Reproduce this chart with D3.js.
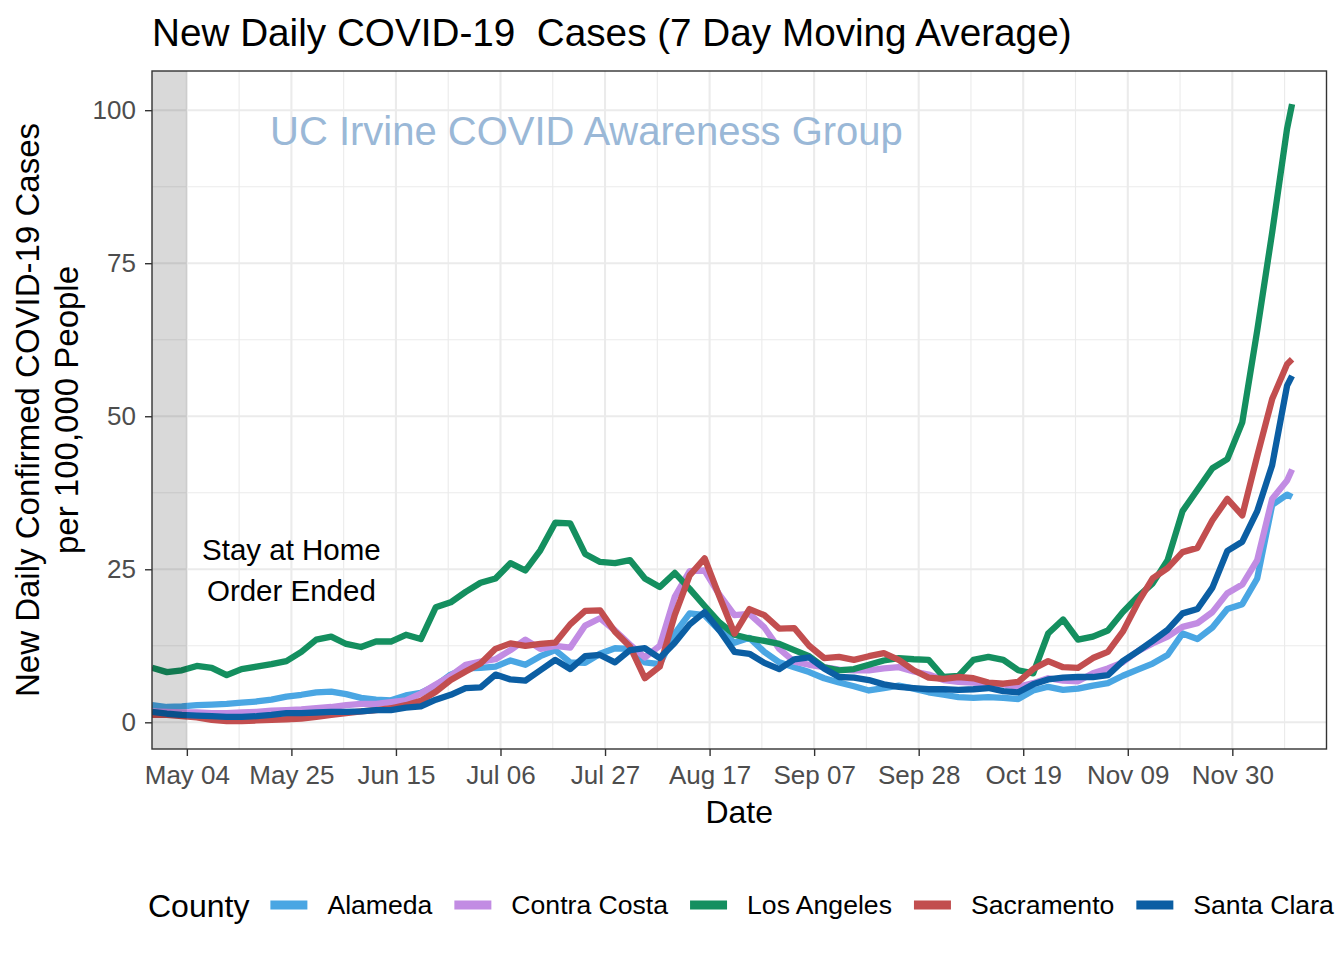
<!DOCTYPE html>
<html>
<head>
<meta charset="utf-8">
<script src="https://cdn.jsdelivr.net/npm/d3@7"></script>
<style>
  html, body { margin: 0; padding: 0; background: #fff; }
  svg { display: block; font-family: "Liberation Sans", Arial, Helvetica, sans-serif; }
</style>
</head>
<body>
<svg id="chart" width="1344" height="960"></svg>
<script>
// ---------------- data ----------------
const startDate = new Date(2020, 3, 27);
const endDate = new Date(2020, 11, 12);
const dates = d3.range(77).map(k => d3.timeDay.offset(startDate, 3 * k)).concat([endDate]);

const counties = ["Alameda", "Contra Costa", "Los Angeles", "Sacramento", "Santa Clara"];
const countyColors = ["#4AA6E3", "#C28CE3", "#148F5F", "#C24E4F", "#0B5EA3"];

const alameda = [2.8,2.5,2.6,2.8,2.9,3.0,3.2,3.4,3.7,4.2,4.5,4.9,5.0,4.6,4.0,3.7,3.6,4.4,4.8,6.0,7.8,8.8,8.9,9.1,10.1,9.4,10.8,11.8,9.8,9.7,11.2,12.1,12.0,9.8,9.5,14.5,17.8,17.5,15.0,13.0,13.8,11.5,9.8,9.0,8.2,7.2,6.5,5.9,5.2,5.6,6.0,5.5,4.9,4.5,4.1,4.0,4.1,4.0,3.8,5.2,5.8,5.3,5.5,6.0,6.4,7.6,8.6,9.6,11.0,14.5,13.6,15.5,18.5,19.3,23.5,35.5,37.2,36.8];
const contraCosta = [1.8,1.7,1.6,1.6,1.5,1.5,1.6,1.7,1.9,2.0,2.1,2.3,2.5,2.8,3.0,3.0,3.3,3.6,4.7,6.2,7.6,9.4,9.9,10.3,11.8,13.5,12.0,12.5,12.2,15.8,17.0,15.0,12.7,10.6,12.5,20.5,24.7,24.8,20.8,17.5,17.7,15.5,12.0,9.9,9.4,9.0,8.6,8.5,8.5,8.8,9.0,8.3,7.8,6.9,6.6,6.5,6.4,6.2,5.8,6.4,7.2,6.8,6.7,8.0,8.8,9.8,11.6,12.9,14.0,15.6,16.2,18.0,21.1,22.5,26.5,36.5,39.5,41.3];
const losAngeles = [8.9,8.2,8.5,9.2,8.9,7.7,8.7,9.1,9.5,10.0,11.5,13.5,14.0,12.8,12.3,13.2,13.2,14.3,13.6,18.8,19.6,21.3,22.8,23.5,26.0,24.8,28.1,32.6,32.5,27.5,26.2,26.0,26.5,23.5,22.1,24.4,21.8,19.0,16.3,14.3,13.7,13.3,12.8,11.8,10.8,9.0,8.5,8.7,9.4,10.1,10.5,10.3,10.2,7.4,7.6,10.2,10.7,10.2,8.5,8.0,14.5,16.8,13.5,14.0,15.0,18.0,20.5,22.7,26.5,34.5,38.0,41.5,43.0,49.0,64.0,80.0,97.0,101.0];
const sacramento = [1.2,1.2,1.0,0.8,0.4,0.2,0.2,0.3,0.4,0.5,0.6,0.9,1.2,1.5,1.8,2.0,2.3,2.8,3.5,5.0,6.9,8.3,9.6,12.0,12.9,12.5,12.8,13.0,16.0,18.2,18.3,14.8,12.4,7.2,9.1,17.5,24.0,26.8,20.5,14.5,18.5,17.5,15.3,15.4,12.5,10.5,10.7,10.2,10.8,11.3,10.2,8.5,7.3,7.1,7.4,7.2,6.5,6.3,6.6,8.7,10.0,9.0,8.9,10.5,11.5,14.8,19.5,23.5,25.2,27.8,28.5,33.0,36.5,33.8,43.5,52.8,58.5,59.3];
const santaClara = [1.7,1.4,1.2,1.1,1.0,0.9,0.9,1.0,1.2,1.5,1.5,1.6,1.7,1.7,1.8,2.0,2.0,2.4,2.6,3.7,4.5,5.6,5.7,7.8,7.0,6.8,8.5,10.2,8.7,10.8,11.0,9.8,11.8,12.1,10.5,13.0,16.0,18.0,15.0,11.5,11.2,9.7,8.7,10.3,10.6,8.8,7.4,7.3,6.9,6.2,5.8,5.6,5.4,5.4,5.3,5.4,5.6,5.1,4.9,6.2,7.0,7.3,7.4,7.4,7.7,10.0,11.6,13.3,15.1,17.8,18.5,22.0,28.0,29.5,34.5,42.0,55.0,56.6];
const seriesValues = [alameda, contraCosta, losAngeles, sacramento, santaClara];

const xTickDates = ["2020-05-04","2020-05-25","2020-06-15","2020-07-06","2020-07-27","2020-08-17","2020-09-07","2020-09-28","2020-10-19","2020-11-09","2020-11-30"];
const yTicks = [0, 25, 50, 75, 100];
const yMinor = [12.5, 37.5, 62.5, 87.5];
const stayHomeEnd = "2020-05-04";

// ---------------- layout ----------------
const svg = d3.select("#chart");
const panel = { left: 152, right: 1326.5, top: 71, bottom: 749 };
const parse = s => { const p = s.split("-").map(Number); return new Date(p[0], p[1] - 1, p[2]); };

const x = d3.scaleTime()
  .domain([startDate, new Date(2020, 11, 18, 22)])
  .range([panel.left, panel.right]);
const y = d3.scaleLinear()
  .domain([-4.36, 106.4])
  .range([panel.bottom, panel.top]);

const xTicks = xTickDates.map(parse);
const xMinor = xTicks.slice(0, -1).map((d, i) => new Date((+d + +xTicks[i + 1]) / 2))
  .concat([d3.timeHour.offset(xTicks[xTicks.length - 1], 21 * 12)]);

// panel background
svg.append("rect").attr("x", panel.left).attr("y", panel.top)
  .attr("width", panel.right - panel.left).attr("height", panel.bottom - panel.top)
  .attr("fill", "#fff");

const grid = svg.append("g");
grid.selectAll(".ymin").data(yMinor).join("line")
  .attr("x1", panel.left).attr("x2", panel.right)
  .attr("y1", d => y(d)).attr("y2", d => y(d))
  .attr("stroke", "#EBEBEB").attr("stroke-width", 1.1);
grid.selectAll(".xmin").data(xMinor.filter(d => x(d) < panel.right)).join("line")
  .attr("y1", panel.top).attr("y2", panel.bottom)
  .attr("x1", d => x(d)).attr("x2", d => x(d))
  .attr("stroke", "#EBEBEB").attr("stroke-width", 1.1);
grid.selectAll(".ymaj").data(yTicks).join("line")
  .attr("x1", panel.left).attr("x2", panel.right)
  .attr("y1", d => y(d)).attr("y2", d => y(d))
  .attr("stroke", "#EBEBEB").attr("stroke-width", 2.1);
grid.selectAll(".xmaj").data(xTicks).join("line")
  .attr("y1", panel.top).attr("y2", panel.bottom)
  .attr("x1", d => x(d)).attr("x2", d => x(d))
  .attr("stroke", "#EBEBEB").attr("stroke-width", 2.1);

svg.append("clipPath").attr("id", "clip").append("rect")
  .attr("x", panel.left).attr("y", panel.top)
  .attr("width", panel.right - panel.left).attr("height", panel.bottom - panel.top);

const line = d3.line().x(d => x(d.date)).y(d => y(d.v));
const lineG = svg.append("g").attr("clip-path", "url(#clip)");
counties.forEach((c, i) => {
  const data = dates.map((d, j) => ({ date: d, v: seriesValues[i][j] }));
  lineG.append("path").datum(data)
    .attr("d", line)
    .attr("fill", "none")
    .attr("stroke", countyColors[i])
    .attr("stroke-width", 6.3)
    .attr("stroke-linejoin", "round")
    .attr("stroke-linecap", "butt");
});

// shaded stay-at-home region
svg.append("rect")
  .attr("x", panel.left).attr("y", panel.top)
  .attr("width", x(parse(stayHomeEnd)) - panel.left)
  .attr("height", panel.bottom - panel.top)
  .attr("fill", "#000").attr("fill-opacity", 0.15);

// watermark
svg.append("text").attr("x", 270).attr("y", 145)
  .attr("font-size", 40).attr("fill", "#9AB8D7")
  .text("UC Irvine COVID Awareness Group");

// annotation
const ann = svg.append("text").attr("text-anchor", "middle")
  .attr("font-size", 29.5).attr("fill", "#000");
ann.append("tspan").attr("x", x(parse("2020-05-25"))).attr("y", 560).text("Stay at Home");
ann.append("tspan").attr("x", x(parse("2020-05-25"))).attr("y", 601).text("Order Ended");

// panel border
svg.append("rect").attr("x", panel.left).attr("y", panel.top)
  .attr("width", panel.right - panel.left).attr("height", panel.bottom - panel.top)
  .attr("fill", "none").attr("stroke", "#333333").attr("stroke-width", 1.4);

// axes
const xAxis = svg.append("g").attr("transform", `translate(0,${panel.bottom})`)
  .call(d3.axisBottom(x).tickValues(xTicks).tickFormat(d3.timeFormat("%b %d")).tickSize(7).tickPadding(10));
const yAxis = svg.append("g").attr("transform", `translate(${panel.left},0)`)
  .call(d3.axisLeft(y).tickValues(yTicks).tickSize(7).tickPadding(9));
[xAxis, yAxis].forEach(a => {
  a.select(".domain").remove();
  a.selectAll(".tick line").attr("stroke", "#333333").attr("stroke-width", 1.4);
  a.selectAll(".tick text").attr("fill", "#4D4D4D").attr("font-size", 26)
    .attr("font-family", "Liberation Sans, Arial, Helvetica, sans-serif");
});

// titles
svg.append("text").attr("x", 152).attr("y", 46).attr("font-size", 38.7).attr("fill", "#000")
  .attr("xml:space", "preserve")
  .text("New Daily COVID-19  Cases (7 Day Moving Average)");
svg.append("text").attr("x", (panel.left + panel.right) / 2).attr("y", 823)
  .attr("text-anchor", "middle").attr("font-size", 32).attr("fill", "#000").text("Date");
const yt = svg.append("text").attr("transform", `translate(0,${(panel.top + panel.bottom) / 2}) rotate(-90)`)
  .attr("text-anchor", "middle").attr("font-size", 33).attr("fill", "#000");
yt.append("tspan").attr("x", 0).attr("y", 39).text("New Daily Confirmed COVID-19 Cases");
yt.append("tspan").attr("x", 0).attr("y", 78).text("per 100,000 People");

// legend
const leg = svg.append("g");
let lx = 148;
const lt = leg.append("text").attr("x", lx).attr("y", 917).attr("font-size", 32).attr("fill", "#000").text("County");
lx += lt.node().getComputedTextLength() + 21;
counties.forEach((c, i) => {
  leg.append("line").attr("x1", lx).attr("x2", lx + 37).attr("y1", 905).attr("y2", 905)
    .attr("stroke", countyColors[i]).attr("stroke-width", 9);
  lx += 37 + 20;
  const t = leg.append("text").attr("x", lx).attr("y", 914).attr("font-size", 26.6).attr("fill", "#000").text(c);
  lx += t.node().getComputedTextLength() + 22;
});
</script>
</body>
</html>
